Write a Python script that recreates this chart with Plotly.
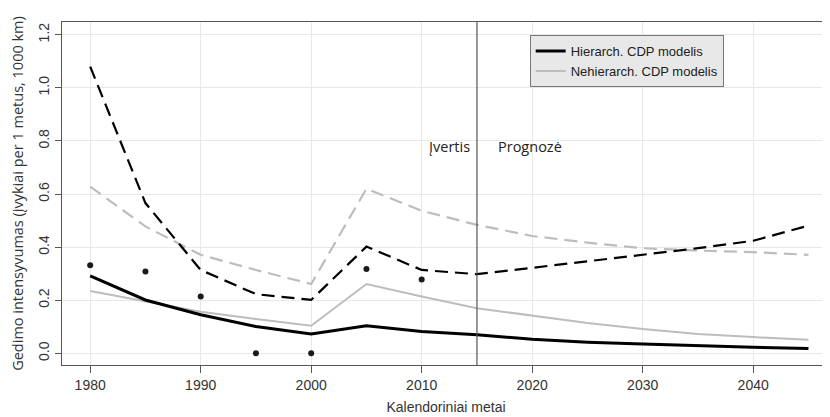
import plotly.graph_objects as go

years = [1980, 1985, 1990, 1995, 2000, 2005, 2010, 2015, 2020, 2025, 2030, 2035, 2040, 2045]
hier_mean = [0.292, 0.201, 0.145, 0.101, 0.073, 0.104, 0.082, 0.070, 0.053, 0.042, 0.035, 0.028, 0.023, 0.018]
hier_upper = [1.080, 0.566, 0.314, 0.223, 0.201, 0.402, 0.314, 0.298, 0.322, 0.346, 0.371, 0.396, 0.424, 0.481]
nonhier_mean = [0.235, 0.195, 0.157, 0.129, 0.104, 0.261, 0.214, 0.170, 0.141, 0.114, 0.092, 0.073, 0.061, 0.051]
nonhier_upper = [0.628, 0.478, 0.371, 0.314, 0.261, 0.620, 0.537, 0.484, 0.442, 0.417, 0.396, 0.387, 0.381, 0.371]
obs_years = [1980, 1985, 1990, 1995, 2000, 2005, 2010]
obs_values = [0.332, 0.308, 0.214, 0.0, 0.0, 0.318, 0.278]

x_ticks = [1980, 1990, 2000, 2010, 2020, 2030, 2040]
y_ticks = [0.0, 0.2, 0.4, 0.6, 0.8, 1.0, 1.2]
y_tick_text = ["0.0", "0.2", "0.4", "0.6", "0.8", "1.0", "1.2"]
legend_names = ["Hierarch. CDP modelis", "Nehierarch. CDP modelis"]
split_year = 2015

BLACK = "#000000"
GREY = "#bdbdbd"

fig = go.Figure()
fig.add_trace(go.Scatter(x=years, y=nonhier_upper, mode="lines", showlegend=False,
                         line=dict(color=GREY, width=2.2, dash="13px,7px")))
fig.add_trace(go.Scatter(x=years, y=hier_upper, mode="lines", showlegend=False,
                         line=dict(color=BLACK, width=2.2, dash="13px,7px")))
fig.add_trace(go.Scatter(x=years, y=nonhier_mean, mode="lines", name=legend_names[1],
                         line=dict(color=GREY, width=2)))
fig.add_trace(go.Scatter(x=years, y=hier_mean, mode="lines", name=legend_names[0],
                         line=dict(color=BLACK, width=3)))
fig.add_trace(go.Scatter(x=obs_years, y=obs_values, mode="markers", showlegend=False,
                         marker=dict(color="#1a1a1a", size=6)))

fig.add_vline(x=split_year, line=dict(color="#555555", width=1.2))

fig.add_annotation(x=2012.5, y=0.78, text="Įvertis", showarrow=False, xref="x", yref="y",
                   font=dict(family="Open Sans", size=14.5, color="#222222"))
fig.add_annotation(x=2019.8, y=0.78, text="Prognozė", showarrow=False, xref="x", yref="y",
                   font=dict(family="Open Sans", size=14.5, color="#222222"))

# page body adds an 8px offset; compensate so the plot lands where the reference has it
fig.update_layout(
    width=822, height=409,
    margin=dict(l=54, r=0, t=14, b=52, autoexpand=False),
    paper_bgcolor="white", plot_bgcolor="white",
    font=dict(family="Liberation Sans, Arial", size=13, color="#333333"),
    legend=dict(
        x=0.609, y=0.962, xanchor="left", yanchor="top",
        traceorder="reversed",
        bgcolor="#e8e8e8", bordercolor="#777777", borderwidth=1,
        font=dict(family="Liberation Sans, Arial", size=13, color="#222222"),
        itemwidth=30, tracegroupgap=0,
    ),
    xaxis=dict(
        range=[1977.45, 2046.95], automargin=False,
        tickvals=x_ticks, ticks="outside", ticklen=7, tickcolor="#555555",
        showline=True, linecolor="#555555", linewidth=1, mirror=True,
        showgrid=True, gridcolor="#e8e8e8", gridwidth=1, zeroline=False,
        title=dict(text="Kalendoriniai metai", standoff=10,
                   font=dict(family="Liberation Sans Narrow, Liberation Sans", size=14, color="#333333")),
        tickfont=dict(family="Liberation Sans Narrow, Liberation Sans", size=14, color="#333333"),
    ),
    yaxis=dict(
        range=[-0.044, 1.248], automargin=False,
        tickvals=y_ticks, ticktext=y_tick_text, tickangle=-90,
        ticks="outside", ticklen=6, tickcolor="#555555",
        showline=True, linecolor="#555555", linewidth=1, mirror=False,
        showgrid=True, gridcolor="#e8e8e8", gridwidth=1, zeroline=False,
        title=dict(text="Gedimo intensyvumas (įvykiai per 1 metus, 1000 km)", standoff=14,
                   font=dict(family="Open Sans", size=14.5, color="#333333")),
        tickfont=dict(family="Liberation Sans", size=14, color="#333333"),
    ),
)

fig.write_html("out.html")
